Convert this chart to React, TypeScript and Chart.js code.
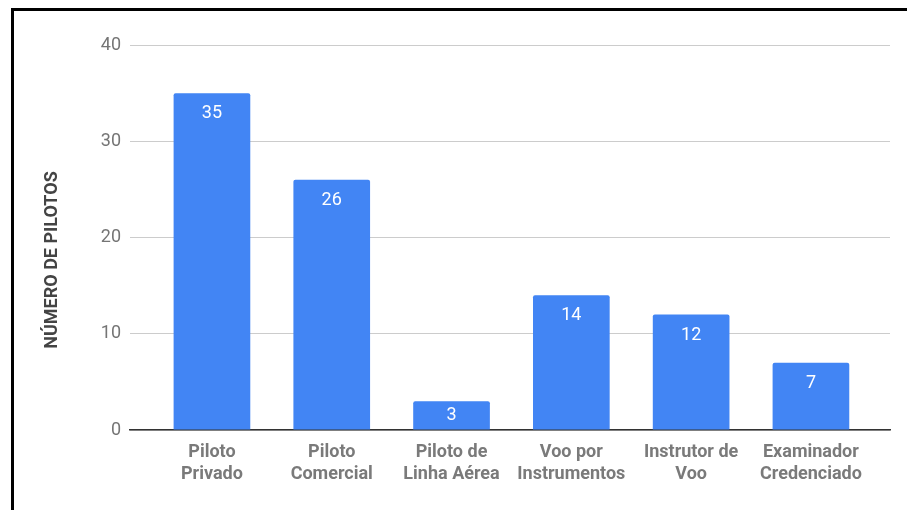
import React, { useEffect, useRef } from "react";
import { Chart, registerables } from "chart.js";

Chart.register(...registerables);

const categories: string[][] = [
  ["Piloto", "Privado"],
  ["Piloto", "Comercial"],
  ["Piloto de", "Linha Aérea"],
  ["Voo por", "Instrumentos"],
  ["Instrutor de", "Voo"],
  ["Examinador", "Credenciado"],
];
const pilots: number[] = [35, 26, 3, 14, 12, 7];
const yTicks: number[] = [0, 10, 20, 30, 40];
const yTitle = "NÚMERO DE PILOTOS";

const FONT = "Roboto, 'Noto Sans', Arial, sans-serif";

const valueLabels = {
  id: "valueLabels",
  afterDatasetsDraw(chart: any) {
    const ctx = chart.ctx;
    const meta = chart.getDatasetMeta(0);
    ctx.save();
    ctx.fillStyle = "#ffffff";
    ctx.font = `18px ${FONT}`;
    ctx.textAlign = "center";
    ctx.textBaseline = "middle";
    meta.data.forEach((bar: any, i: number) => {
      const h = bar.base - bar.y;
      ctx.fillText(String(pilots[i]), bar.x, bar.y + Math.min(20.5, h / 2 + 0.5));
    });
    ctx.restore();
  },
};

const yTitlePlugin = {
  id: "yTitlePlugin",
  afterDraw(chart: any) {
    const ctx = chart.ctx;
    ctx.save();
    ctx.translate(52, 260);
    ctx.rotate(-Math.PI / 2);
    ctx.fillStyle = "#444444";
    ctx.font = `bold 18px ${FONT}`;
    ctx.textAlign = "center";
    ctx.textBaseline = "middle";
    ctx.fillText(yTitle, 0, 0);
    ctx.restore();
  },
};

export default function App() {
  const ref = useRef<HTMLCanvasElement | null>(null);
  useEffect(() => {
    if (!ref.current) return;
    const chart = new Chart(ref.current, {
      type: "bar",
      data: {
        datasets: [
          {
            data: pilots.map((v, i) => ({ x: i, y: v })),
            backgroundColor: "#4285F4",
            borderRadius: { topLeft: 2, topRight: 2, bottomLeft: 0, bottomRight: 0 },
            borderSkipped: false,
            barPercentage: 0.64,
            categoryPercentage: 1,
          },
        ],
      },
      options: {
        animation: false,
        responsive: false,
        devicePixelRatio: 1,
        layout: { padding: { left: 0, right: 17, top: 45, bottom: 0 } },
        plugins: { legend: { display: false }, tooltip: { enabled: false }, title: { display: false } },
        scales: {
          x: {
            type: "linear",
            offset: false,
            min: -0.684,
            max: 5.66,
            grid: { display: false, drawTicks: false, offset: false },
            border: { display: true, color: "#333333", width: 1.5 },
            afterFit: (s: any) => {
              s.height = 80;
            },
            ticks: {
              stepSize: 1,
              includeBounds: false,
              autoSkip: false,
              maxRotation: 0,
              minRotation: 0,
              padding: 12,
              color: "#7a7a7a",
              font: { family: FONT, size: 18, weight: "bold", lineHeight: 1.2 },
              callback: (v: any) => (Number.isInteger(v) && categories[v] ? categories[v] : ""),
            },
          },
          y: {
            min: 0,
            max: 40,
            afterBuildTicks: (s: any) => {
              s.ticks = yTicks.map((v) => ({ value: v }));
            },
            afterFit: (s: any) => {
              s.width = 130;
            },
            grid: { color: "#cccccc", lineWidth: 1, drawTicks: false },
            border: { display: false },
            ticks: {
              padding: 9,
              color: "#757575",
              font: { family: FONT, size: 18 },
            },
          },
        },
      } as any,
      plugins: [valueLabels, yTitlePlugin],
    });
    return () => chart.destroy();
  }, []);

  return (
    <div style={{ position: "fixed", left: 0, top: 0, width: 907, height: 510, background: "#fff", overflow: "hidden" }}>
      <canvas ref={ref} width={907} height={510} style={{ position: "absolute", left: 0, top: 0, width: 907, height: 510 }} />
      <div
        style={{
          position: "absolute",
          left: 11,
          top: 8,
          width: 1000,
          height: 600,
          borderTop: "3px solid #000",
          borderLeft: "3px solid #000",
          pointerEvents: "none",
        }}
      />
    </div>
  );
}
